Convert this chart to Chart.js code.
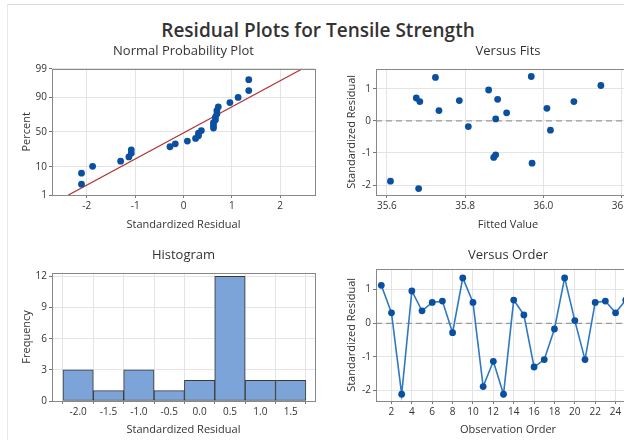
<!DOCTYPE html>
<html>
<head>
<meta charset="utf-8">
<title>Residual Plots for Tensile Strength</title>
<script src="https://cdn.jsdelivr.net/npm/chart.js@4.4.1/dist/chart.umd.min.js"></script>
<style>
  html, body { margin: 0; padding: 0; background: #fff; }
  body { width: 624px; height: 440px; overflow: hidden; position: relative; font-family: 'Open Sans', sans-serif; }
  #edge { position: absolute; left: 7px; top: 4px; width: 700px; height: 500px; border-top: 1px solid #dcdcdc; border-left: 1px solid #e8e8e8; }
  #main-title { position: absolute; left: 0; top: 18px; width: 636px; text-align: center; font-size: 19px; font-weight: 600; line-height: 24px; color: #333; }
  canvas { position: absolute; }
</style>
</head>
<body>
<div id="edge"></div>
<div id="main-title">Residual Plots for Tensile Strength</div>
<canvas id="npp" width="330" height="200" style="left:0;top:40px"></canvas>
<canvas id="fits" width="335" height="200" style="left:320px;top:40px"></canvas>
<canvas id="hist" width="330" height="205" style="left:0;top:235px"></canvas>
<canvas id="order" width="335" height="205" style="left:320px;top:235px"></canvas>
<script>
// normal probability plot: sorted standardized residuals and plotted percent
const nppResid = [-2.11, -2.11, -1.88, -1.30, -1.13, -1.08, -1.08, -0.28, -0.17, 0.08, 0.25, 0.31, 0.31,
    0.37, 0.62, 0.62, 0.62, 0.66, 0.66, 0.69, 0.69, 0.72, 0.96, 1.13, 1.35, 1.35];
const nppPercent = [2.7, 6.4, 10.2, 14.0, 17.8, 21.6, 25.4, 29.2, 33.0, 36.7, 40.5, 44.3, 48.1,
    51.9, 55.7, 59.5, 63.3, 67.0, 70.8, 74.6, 78.4, 82.2, 86.0, 89.8, 93.6, 97.3];
const nppLineResid = [-2.38, 2.46];
const nppLinePercent = [1, 99];
const nppTicksX = [-2, -1, 0, 1, 2];
const nppTicksPct = [1, 10, 50, 90, 99];

// versus fits (points inside the visible part)
const fitValues = [35.609, 35.681, 35.675, 35.684, 35.724, 35.733, 35.785, 35.808, 35.860, 35.883,
    35.878, 35.906, 35.873, 35.878, 35.969, 35.971, 36.009, 36.018, 36.078, 36.147];
const fitResid = [-1.88, -2.11, 0.71, 0.60, 1.35, 0.32, 0.63, -0.18, 0.96, 0.67,
    0.06, 0.25, -1.14, -1.06, 1.38, -1.32, 0.39, -0.29, 0.60, 1.10];
const fitTicksX = [35.6, 35.8, 36.0, 36.2];

// histogram
const histCenters = [-2.0, -1.5, -1.0, -0.5, 0.0, 0.5, 1.0, 1.5];
const histCounts = [3, 1, 3, 1, 2, 12, 2, 2];
const histTicksY = [0, 3, 6, 9, 12];

// versus order
const orderResid = [1.13, 0.31, -2.11, 0.96, 0.37, 0.62, 0.66, -0.28, 1.35, 0.62, -1.88, -1.13, -2.11,
    0.69, 0.25, -1.30, -1.08, -0.17, 1.35, 0.08, -1.08, 0.62, 0.66, 0.31, 0.69, 0.72];
const orderTicksX = [2, 4, 6, 8, 10, 12, 14, 16, 18, 20, 22, 24, 26];
const residTicks = [-2, -1, 0, 1];

const INK = '#333';
const POINT = '#0b50a0';

Chart.defaults.font.family = "'Open Sans', sans-serif";
Chart.defaults.color = INK;
Chart.defaults.animation = false;

// inverse normal cdf (Acklam), used for the probability axis
const probit = p => {
    const a = [-3.969683028665376e+01, 2.209460984245205e+02, -2.759285104469687e+02, 1.383577518672690e+02, -3.066479806614716e+01, 2.506628277459239e+00];
    const b = [-5.447609879822406e+01, 1.615858368580409e+02, -1.556989798598866e+02, 6.680131188771972e+01, -1.328068155288572e+01];
    const c = [-7.784894002430293e-03, -3.223964580411365e-01, -2.400758277161838e+00, -2.549732539343734e+00, 4.374664141464968e+00, 2.938163982698783e+00];
    const d = [7.784695709041462e-03, 3.224671290700398e-01, 2.445134137142996e+00, 3.754408661907416e+00];
    const tail = q => (((((c[0] * q + c[1]) * q + c[2]) * q + c[3]) * q + c[4]) * q + c[5]) / ((((d[0] * q + d[1]) * q + d[2]) * q + d[3]) * q + 1);
    if (p < 0.02425) return tail(Math.sqrt(-2 * Math.log(p)));
    if (p > 1 - 0.02425) return -tail(Math.sqrt(-2 * Math.log(1 - p)));
    const q = p - 0.5, r = q * q;
    return (((((a[0] * r + a[1]) * r + a[2]) * r + a[3]) * r + a[4]) * r + a[5]) * q /
        (((((b[0] * r + b[1]) * r + b[2]) * r + b[3]) * r + b[4]) * r + 1);
};
const pctToZ = pct => probit(pct / 100);

// box around the plot area + dashed zero reference line
const framePlugin = {
    id: 'frame',
    beforeDatasetsDraw(chart, args, opts) {
        if (!opts.zeroLine) return;
        const { ctx, chartArea: a } = chart;
        const y = chart.scales.y.getPixelForValue(0);
        ctx.save();
        ctx.strokeStyle = '#9a9a9a';
        ctx.lineWidth = 1.3;
        ctx.setLineDash([6, 4]);
        ctx.beginPath();
        ctx.moveTo(a.left, y);
        ctx.lineTo(a.right, y);
        ctx.stroke();
        ctx.restore();
    },
    afterDraw(chart) {
        const { ctx, chartArea: a } = chart;
        ctx.save();
        ctx.strokeStyle = '#888';
        ctx.lineWidth = 1;
        ctx.strokeRect(Math.round(a.left) + 0.5, Math.round(a.top) + 0.5,
            Math.round(a.right - a.left), Math.round(a.bottom - a.top));
        ctx.restore();
    }
};

const axis = ({ min, max, ticks, fmt, title, titlePad, size }) => ({
    type: 'linear',
    min, max,
    afterBuildTicks: scale => { scale.ticks = ticks.map(v => ({ value: v })); },
    afterFit: scale => {
        if (scale.isHorizontal()) scale.height = size; else scale.width = size;
    },
    ticks: { callback: fmt, font: { size: 10 }, color: INK, padding: 2, maxRotation: 0, autoSkip: false },
    grid: { color: '#e4e4e4', tickColor: '#777', tickLength: 3 },
    border: { display: false },
    title: { display: true, text: title, font: { size: 11 }, color: INK, padding: titlePad }
});

const panelPlugins = (text, top, bottom, zeroLine) => ({
    title: { display: true, text, fullSize: false, font: { size: 13, weight: 'normal' }, color: INK, padding: { top, bottom } },
    legend: { display: false },
    tooltip: { enabled: false },
    frame: { zeroLine }
});

// Normal probability plot
new Chart(document.getElementById('npp'), {
    type: 'scatter',
    data: {
        datasets: [{
            data: nppResid.map((r, i) => ({ x: r, y: pctToZ(nppPercent[i]) })),
            pointRadius: 3.4,
            pointBackgroundColor: POINT,
            pointBorderWidth: 0
        }, {
            data: nppLineResid.map((r, i) => ({ x: r, y: pctToZ(nppLinePercent[i]) })),
            showLine: true,
            pointRadius: 0,
            borderColor: '#b03030',
            borderWidth: 1.2
        }]
    },
    options: {
        responsive: false,
        layout: { padding: { left: 8, right: 15, top: 0, bottom: 0 } },
        scales: {
            x: axis({ min: -2.72, max: 2.72, ticks: nppTicksX, fmt: v => String(v), title: 'Standardized Residual', titlePad: { top: 0, bottom: 8.6 }, size: 45 }),
            y: axis({ min: pctToZ(1), max: pctToZ(99), ticks: nppTicksPct.map(pctToZ), fmt: (v, i) => String(nppTicksPct[i]), title: 'Percent', titlePad: { top: 12.6, bottom: 0 }, size: 44 })
        },
        plugins: panelPlugins('Normal Probability Plot', 3.6, 9.6, false)
    },
    plugins: [framePlugin]
});

// Versus fits
new Chart(document.getElementById('fits'), {
    type: 'scatter',
    data: {
        datasets: [{
            data: fitValues.map((f, i) => ({ x: f, y: fitResid[i] })),
            pointRadius: 3.4,
            pointBackgroundColor: POINT,
            pointBorderWidth: 0
        }]
    },
    options: {
        responsive: false,
        layout: { padding: { left: 8, right: 15, top: 0, bottom: 0 } },
        scales: {
            x: axis({ min: 35.572, max: 36.247, ticks: fitTicksX, fmt: v => v.toFixed(1), title: 'Fitted Value', titlePad: { top: 0, bottom: 8.6 }, size: 45 }),
            y: axis({ min: -2.31, max: 1.62, ticks: residTicks, fmt: v => String(v), title: 'Standardized Residual', titlePad: { top: 17.6, bottom: 0 }, size: 48 })
        },
        plugins: panelPlugins('Versus Fits', 3.6, 9.6, true)
    },
    plugins: [framePlugin]
});

// Histogram
new Chart(document.getElementById('hist'), {
    type: 'bar',
    data: {
        datasets: [{
            data: histCenters.map((c, i) => ({ x: c, y: histCounts[i] })),
            backgroundColor: '#7ca4d8',
            borderColor: '#3a3a3a',
            borderWidth: 1,
            borderSkipped: false,
            barPercentage: 1,
            categoryPercentage: 1
        }]
    },
    options: {
        responsive: false,
        layout: { padding: { left: 8, right: 15, top: 0, bottom: 0 } },
        scales: {
            x: Object.assign(axis({ min: -2.43, max: 1.9, ticks: histCenters, fmt: v => v.toFixed(1), title: 'Standardized Residual', titlePad: { top: 0, bottom: 3.6 }, size: 39 }), { offset: false }),
            y: axis({ min: 0, max: 12.35, ticks: histTicksY, fmt: v => String(v), title: 'Frequency', titlePad: { top: 12.6, bottom: 0 }, size: 44 })
        },
        plugins: panelPlugins('Histogram', 12.6, 9.6, false)
    },
    plugins: [framePlugin]
});

// Versus order
new Chart(document.getElementById('order'), {
    type: 'scatter',
    data: {
        datasets: [{
            data: orderResid.map((r, i) => ({ x: i + 1, y: r })),
            showLine: true,
            borderColor: '#2f78c4',
            borderWidth: 1.6,
            pointRadius: 3.4,
            pointBackgroundColor: POINT,
            pointBorderWidth: 0
        }]
    },
    options: {
        responsive: false,
        layout: { padding: { left: 8, right: 15, top: 0, bottom: 0 } },
        scales: {
            x: axis({ min: 0.48, max: 26.4, ticks: orderTicksX, fmt: v => String(v), title: 'Observation Order', titlePad: { top: 0, bottom: 3.6 }, size: 39 }),
            y: axis({ min: -2.31, max: 1.62, ticks: residTicks, fmt: v => String(v), title: 'Standardized Residual', titlePad: { top: 17.6, bottom: 0 }, size: 48 })
        },
        plugins: panelPlugins('Versus Order', 12.6, 5.6, true)
    },
    plugins: [framePlugin]
});
</script>
</body>
</html>
